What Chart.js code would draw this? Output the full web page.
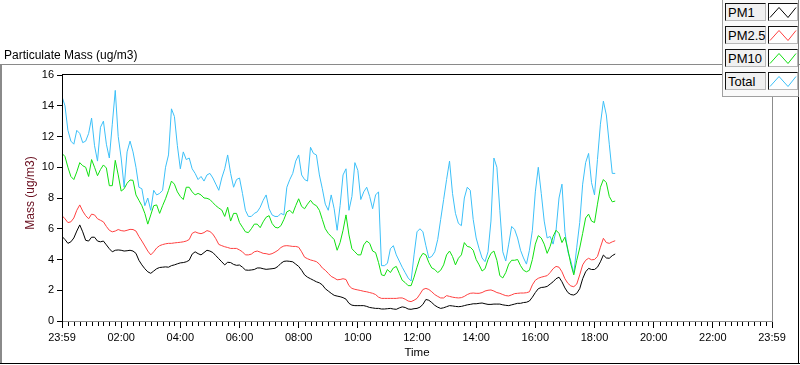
<!DOCTYPE html>
<html>
<head>
<meta charset="utf-8">
<script src="https://cdn.jsdelivr.net/npm/chart.js@4.4.0/dist/chart.umd.min.js"></script>
<style>
html,body{margin:0;padding:0;background:#fff;overflow:hidden}
#wrap{position:relative;width:800px;height:365px;font-family:"Liberation Sans",Arial,sans-serif}
#c{position:absolute;left:0;top:0}
#title{position:absolute;left:4px;top:48px;font-size:12px;line-height:14px;color:#000;white-space:nowrap}
#legend{position:absolute;left:722px;top:0;width:77px;height:97px;box-sizing:border-box;border-left:1px solid #a0a0a0;border-bottom:1px solid #a0a0a0;border-right:1px solid #808080;background:#fafafa}
.lab{position:absolute;left:2px;width:41px;height:18px;box-sizing:border-box;border:1px solid #111;border-right-color:#b8b8b8;border-bottom-color:#b8b8b8;background:#f0f0f0;font-size:13px;line-height:16px;padding:1px 0 0 2px;color:#000;white-space:nowrap;overflow:visible}
.sw{position:absolute;left:45px;width:30px;height:18px;box-sizing:border-box;border:1px solid #111;border-right-color:#b8b8b8;border-bottom-color:#b8b8b8;background:#fff}
.sw svg{position:absolute;left:0;top:0}
</style>
</head>
<body>
<div id="wrap">
<canvas id="c" width="800" height="365"></canvas>
<div id="title">Particulate Mass (ug/m3)</div>
<div id="legend"></div>
</div>
<script>
// ---- data (minutes after 23:59, sampled every 6 minutes) ----
const SAMPLE_STEP_MIN = 6;
const seriesNames = ["PM1", "PM2.5", "PM10", "Total"];
const seriesColors = ["#000000", "#ff4040", "#10e010", "#3cc0f8"];

const pm1 = [
 5.5, 5.3, 5.05, 5.15, 5.4, 5.85, 6.25, 5.8, 5.25, 5.2,
 5.45, 5.45, 5.2, 5.15, 5.2, 4.95, 4.7, 4.5, 4.6, 4.62,
 4.6, 4.55, 4.57, 4.6, 4.55, 4.4, 3.95, 3.65, 3.4, 3.2,
 3.1, 3.25, 3.4, 3.48, 3.5, 3.52, 3.5, 3.6, 3.65, 3.72,
 3.78, 3.8, 3.85, 3.95, 4.35, 4.5, 4.38, 4.3, 4.45, 4.6,
 4.55, 4.45, 4.25, 4.05, 3.85, 3.65, 3.82, 3.8, 3.68, 3.62,
 3.64, 3.5, 3.32, 3.3, 3.32, 3.35, 3.45, 3.45, 3.4, 3.36,
 3.38, 3.4, 3.43, 3.55, 3.75, 3.88, 3.9, 3.88, 3.85, 3.7,
 3.55, 3.3, 3.0, 2.85, 2.75, 2.65, 2.55, 2.48, 2.35, 2.1,
 1.95, 1.8, 1.67, 1.62, 1.58, 1.52, 1.42, 1.15, 1.03, 1.0,
 1.0, 1.0, 1.0, 0.95, 0.88, 0.85, 0.82, 0.82, 0.78, 0.78,
 0.8, 0.82, 0.78, 0.76, 0.85, 0.92, 0.88, 0.78, 0.76, 0.8,
 0.82, 0.9, 1.08, 1.4, 1.35, 1.2, 1.02, 0.9, 0.82, 0.86,
 0.93, 1.0, 0.98, 0.95, 0.93, 0.95, 1.0, 1.05, 1.08, 1.12,
 1.12, 1.15, 1.17, 1.12, 1.08, 1.08, 1.1, 1.1, 1.1, 1.05,
 1.02, 1.0, 1.05, 1.1, 1.15, 1.15, 1.2, 1.22, 1.3, 1.55,
 1.85, 2.1, 2.18, 2.2, 2.25, 2.4, 2.55, 2.75, 2.85, 2.55,
 2.15, 1.85, 1.72, 1.69, 1.8, 2.1, 2.75, 3.2, 3.42, 3.35,
 3.35, 3.5, 3.85, 4.29, 4.1, 4.08, 4.25, 4.36
];

const pm25 = [
 6.85, 6.65, 6.4, 6.45, 6.7, 7.2, 7.55, 7.15, 6.85, 6.65,
 6.95, 6.9, 6.65, 6.55, 6.45, 6.15, 5.9, 5.8, 5.85, 5.95,
 5.88, 5.85, 5.9, 5.96, 5.95, 5.85, 5.5, 5.2, 4.88, 4.55,
 4.3, 4.5, 4.75, 4.9, 4.97, 5.02, 5.05, 5.05, 5.08, 5.1,
 5.12, 5.15, 5.2, 5.3, 5.7, 5.8, 5.72, 5.68, 5.75, 5.88,
 5.82, 5.65, 5.35, 4.98, 4.9, 4.83, 4.78, 4.72, 4.72, 4.72,
 4.62, 4.5, 4.3, 4.3, 4.35, 4.5, 4.55, 4.48, 4.4, 4.38,
 4.33, 4.38, 4.48, 4.6, 4.78, 4.88, 4.9, 4.88, 4.85, 4.85,
 4.8, 4.5, 4.15, 4.05, 3.97, 3.92, 3.86, 3.7, 3.45, 3.3,
 3.1, 2.9, 2.8, 2.68, 2.7, 2.75, 2.7, 2.3, 2.12, 2.06,
 2.02, 1.98, 1.93, 1.9, 1.85, 1.8, 1.72, 1.55, 1.47, 1.47,
 1.47, 1.47, 1.47, 1.47, 1.5, 1.5, 1.42, 1.3, 1.26, 1.35,
 1.47, 1.75, 2.05, 2.12, 2.05, 1.9, 1.72, 1.6, 1.5, 1.5,
 1.65, 1.6, 1.55, 1.52, 1.5, 1.52, 1.6, 1.72, 1.8, 1.82,
 1.8, 1.8, 1.85, 1.95, 2.0, 2.02, 1.95, 1.85, 1.8, 1.72,
 1.65, 1.63, 1.7, 1.78, 1.8, 1.82, 1.82, 1.84, 1.9, 2.35,
 2.65, 2.78, 2.85, 2.9, 2.95, 3.15, 3.4, 3.55, 3.5, 3.2,
 2.75, 2.45, 2.28, 2.23, 2.4, 3.0, 3.65, 3.95, 4.08, 3.98,
 4.0, 4.2, 4.8, 5.38, 5.1, 5.05, 5.15, 5.22
];

const pm10 = [
 10.9, 10.7, 10.0, 9.4, 9.2, 9.7, 10.3, 10.1, 10.0, 9.4,
 10.5, 10.0, 9.45, 9.85, 10.15, 9.95, 8.8, 8.8, 10.45, 9.5,
 8.45, 8.6, 8.96, 9.17, 9.15, 8.2, 7.85, 7.5, 7.0, 6.3,
 6.9, 7.5, 7.55, 7.0, 7.5, 7.95, 8.5, 9.1, 8.9, 8.4,
 8.1, 7.9, 8.7, 8.7, 8.4, 8.2, 8.3, 8.2, 8.0, 7.98,
 7.9, 7.7, 7.5, 7.35, 7.22, 6.8, 7.4, 6.5, 7.0, 7.0,
 6.4, 6.1, 5.8, 5.75, 6.0, 6.3, 6.3, 6.07, 6.45, 6.75,
 6.85, 6.35, 6.1, 6.05, 6.2, 6.6, 7.1, 7.2, 7.0, 7.5,
 7.95, 7.45, 7.3, 7.6, 7.85, 7.6, 7.5, 7.2, 6.6, 6.0,
 5.7, 5.5, 5.3, 4.6, 5.1, 5.9, 6.9, 5.6, 4.7, 4.5,
 4.3, 4.3, 4.95, 5.2, 5.05, 4.55, 4.45, 3.8, 3.0, 2.95,
 3.35, 3.15, 3.45, 3.55, 3.1, 2.65, 2.5, 2.3, 2.3, 2.85,
 3.5, 4.1, 4.4, 4.3, 3.8, 3.45, 3.35, 3.15, 3.3, 3.65,
 4.3, 4.55, 4.2, 3.65, 4.08, 4.3, 5.1, 4.85, 4.8, 4.6,
 4.0, 3.65, 3.25, 3.4, 4.0, 4.4, 4.55, 3.95, 2.95, 2.8,
 3.15, 3.7, 3.95, 3.95, 4.0, 3.6, 3.3, 3.2, 3.3, 4.0,
 5.0, 5.55, 5.4, 5.0, 4.4, 4.85, 5.5, 5.9, 5.7, 5.1,
 5.45, 4.65, 3.7, 3.0, 3.95, 4.75, 5.7, 6.7, 6.95, 6.5,
 6.4, 7.6, 8.7, 9.2, 9.0, 8.1, 7.75, 7.8
];

const total = [
 14.6, 14.0, 12.4, 11.7, 11.5, 12.4, 12.2, 11.6, 11.7, 12.2,
 13.2, 11.4, 10.4, 12.6, 13.0, 11.5, 10.6, 12.8, 15.0, 12.0,
 10.6, 8.7, 11.0, 11.7, 11.0, 10.0, 8.7, 8.6, 7.5, 8.0,
 7.2, 8.5, 8.2, 8.3, 8.5, 10.0, 10.8, 13.8, 13.3, 11.4,
 9.9, 11.0, 10.5, 10.6, 9.9, 9.6, 9.2, 9.4, 9.1, 9.5,
 9.6, 9.3, 8.9, 8.5, 9.3, 9.9, 10.8, 9.6, 8.7, 9.2,
 9.3, 8.3, 7.2, 6.8, 6.8, 7.0, 7.1, 7.4, 7.85, 8.2,
 7.3, 6.9, 6.8, 6.8, 7.0, 6.9, 8.7, 9.2, 9.6, 10.4,
 10.8, 9.5, 9.2, 9.1, 11.3, 10.9, 10.8, 9.5, 8.6, 7.6,
 7.2, 8.2, 7.3, 5.9, 7.5, 9.5, 9.9, 7.2, 8.1, 10.3,
 9.8, 7.9, 8.4, 8.7, 8.1, 7.3, 8.2, 8.4, 3.6, 3.6,
 3.75, 4.7, 4.9, 4.3, 3.9, 3.5, 3.15, 2.8, 2.6, 4.3,
 5.8, 6.0, 5.8, 4.9, 4.1, 4.2, 4.5, 5.3, 6.6, 7.9,
 9.2, 10.4, 8.3, 7.0, 6.35, 6.2, 8.0, 8.7, 8.5, 6.6,
 5.4, 4.7, 4.1, 3.86, 4.5, 6.5, 10.6, 10.0, 7.2, 4.5,
 3.9, 5.0, 6.15, 5.95, 5.4, 4.6, 4.1, 3.7, 4.6, 5.9,
 8.4, 10.0, 8.3, 6.5, 5.4, 5.5, 5.0, 5.9, 8.0, 8.9,
 5.8, 4.5, 3.9, 3.1, 4.8, 6.4, 8.9, 10.3, 10.9, 9.0,
 8.2, 10.5, 12.8, 14.3, 13.4, 11.5, 9.6, 9.6
];

const tickMinutes = [0, 120, 240, 360, 480, 600, 720, 840, 960, 1080, 1200, 1320, 1440];
const tickLabels = ["23:59", "02:00", "04:00", "06:00", "08:00", "10:00", "12:00", "14:00", "16:00", "18:00", "20:00", "22:00", "23:59"];
const yTicks = [0, 2, 4, 6, 8, 10, 12, 14, 16];
const MINOR_STEP_MIN = 12;
const yTitle = "Mass (ug/m3)";

// ---- build ----
const seriesValues = [pm1, pm25, pm10, total];
const times = pm1.map((_, i) => i * SAMPLE_STEP_MIN);
const FONT = '"Liberation Sans", Arial, sans-serif';

// legend (HTML)
const legend = document.getElementById('legend');
seriesNames.forEach((name, i) => {
  const top = 3 + i * 23;
  const lab = document.createElement('div');
  lab.className = 'lab'; lab.style.top = top + 'px'; lab.textContent = name;
  const sw = document.createElement('div');
  sw.className = 'sw'; sw.style.top = top + 'px';
  sw.innerHTML = '<svg width="28" height="16"><polyline points="1,13.5 10,3.5 19,13.5 27,3.5" fill="none" stroke="' + seriesColors[i] + '" stroke-width="1"/></svg>';
  legend.appendChild(lab); legend.appendChild(sw);
});

const framePlugin = {
  id: 'frame',
  afterDraw(chart) {
    const ctx = chart.ctx, a = chart.chartArea, xs = chart.scales.x;
    ctx.save();
    // minor ticks on the time axis
    ctx.strokeStyle = '#000'; ctx.lineWidth = 1;
    ctx.beginPath();
    for (let m = 0; m <= 1440; m += MINOR_STEP_MIN) {
      if (tickMinutes.includes(m)) continue;
      const px = Math.round(xs.getPixelForValue(m)) + 0.5;
      ctx.moveTo(px, a.bottom + 1); ctx.lineTo(px, a.bottom + 5);
    }
    ctx.stroke();
    // plot area border
    ctx.fillStyle = '#000';
    ctx.fillRect(a.left, a.top - 1, a.right - a.left + 1, 1);
    ctx.fillRect(a.left, a.top - 1, 1, a.bottom - a.top + 2);
    ctx.fillStyle = '#8c8c8c';
    ctx.fillRect(a.right, a.top - 1, 1, a.bottom - a.top + 2);
    ctx.fillRect(a.left + 1, a.bottom, a.right - a.left, 1);
    // outer frame
    ctx.fillStyle = '#8a8a8a';
    ctx.fillRect(0, 64, 800, 1);
    ctx.fillRect(0, 64, 2, 300);
    ctx.fillStyle = '#000';
    ctx.fillRect(0, 363, 800, 1);
    ctx.fillRect(798, 64, 1, 300);
    // y-axis title
    ctx.translate(31, (a.top + a.bottom) / 2 - 5);
    ctx.rotate(-Math.PI / 2);
    ctx.font = '12px ' + FONT;
    ctx.fillStyle = '#6a1020';
    ctx.textAlign = 'center';
    ctx.textBaseline = 'middle';
    ctx.fillText(yTitle, 0, 0);
    ctx.restore();
  }
};

new Chart(document.getElementById('c'), {
  type: 'line',
  data: {
    datasets: seriesNames.map((name, i) => ({
      label: name,
      data: times.map((t, j) => ({ x: t, y: seriesValues[i][j] })),
      borderColor: seriesColors[i],
      borderWidth: 1,
      pointRadius: 0,
      tension: 0,
      fill: false
    }))
  },
  options: {
    responsive: false,
    devicePixelRatio: 1,
    animation: false,
    layout: { padding: { top: 75, right: 28, bottom: 0, left: 0 } },
    plugins: { legend: { display: false }, tooltip: { enabled: false } },
    scales: {
      x: {
        type: 'linear', min: 0, max: 1440,
        afterFit(s) { s.height = 44; },
        afterBuildTicks(s) { s.ticks = tickMinutes.map(v => ({ value: v })); },
        ticks: {
          autoSkip: false, maxRotation: 0, padding: 3, color: '#000',
          font: { family: FONT, size: 11 },
          callback: (v) => tickLabels[tickMinutes.indexOf(v)]
        },
        grid: { drawOnChartArea: false, drawTicks: true, tickLength: 7, tickColor: '#000' },
        border: { display: false },
        title: { display: true, text: 'Time', color: '#000', font: { family: FONT, size: 11.5 }, padding: { top: 0, bottom: 5 } }
      },
      y: {
        min: 0, max: 16,
        afterFit(s) { s.width = 62; },
        afterBuildTicks(s) { s.ticks = yTicks.map(v => ({ value: v })); },
        ticks: { padding: 3, color: '#000', font: { family: FONT, size: 11 } },
        grid: { drawOnChartArea: false, drawTicks: true, tickLength: 5, tickColor: '#000' },
        border: { display: false },
        title: { display: false }
      }
    }
  },
  plugins: [framePlugin]
});
</script>
</body>
</html>
